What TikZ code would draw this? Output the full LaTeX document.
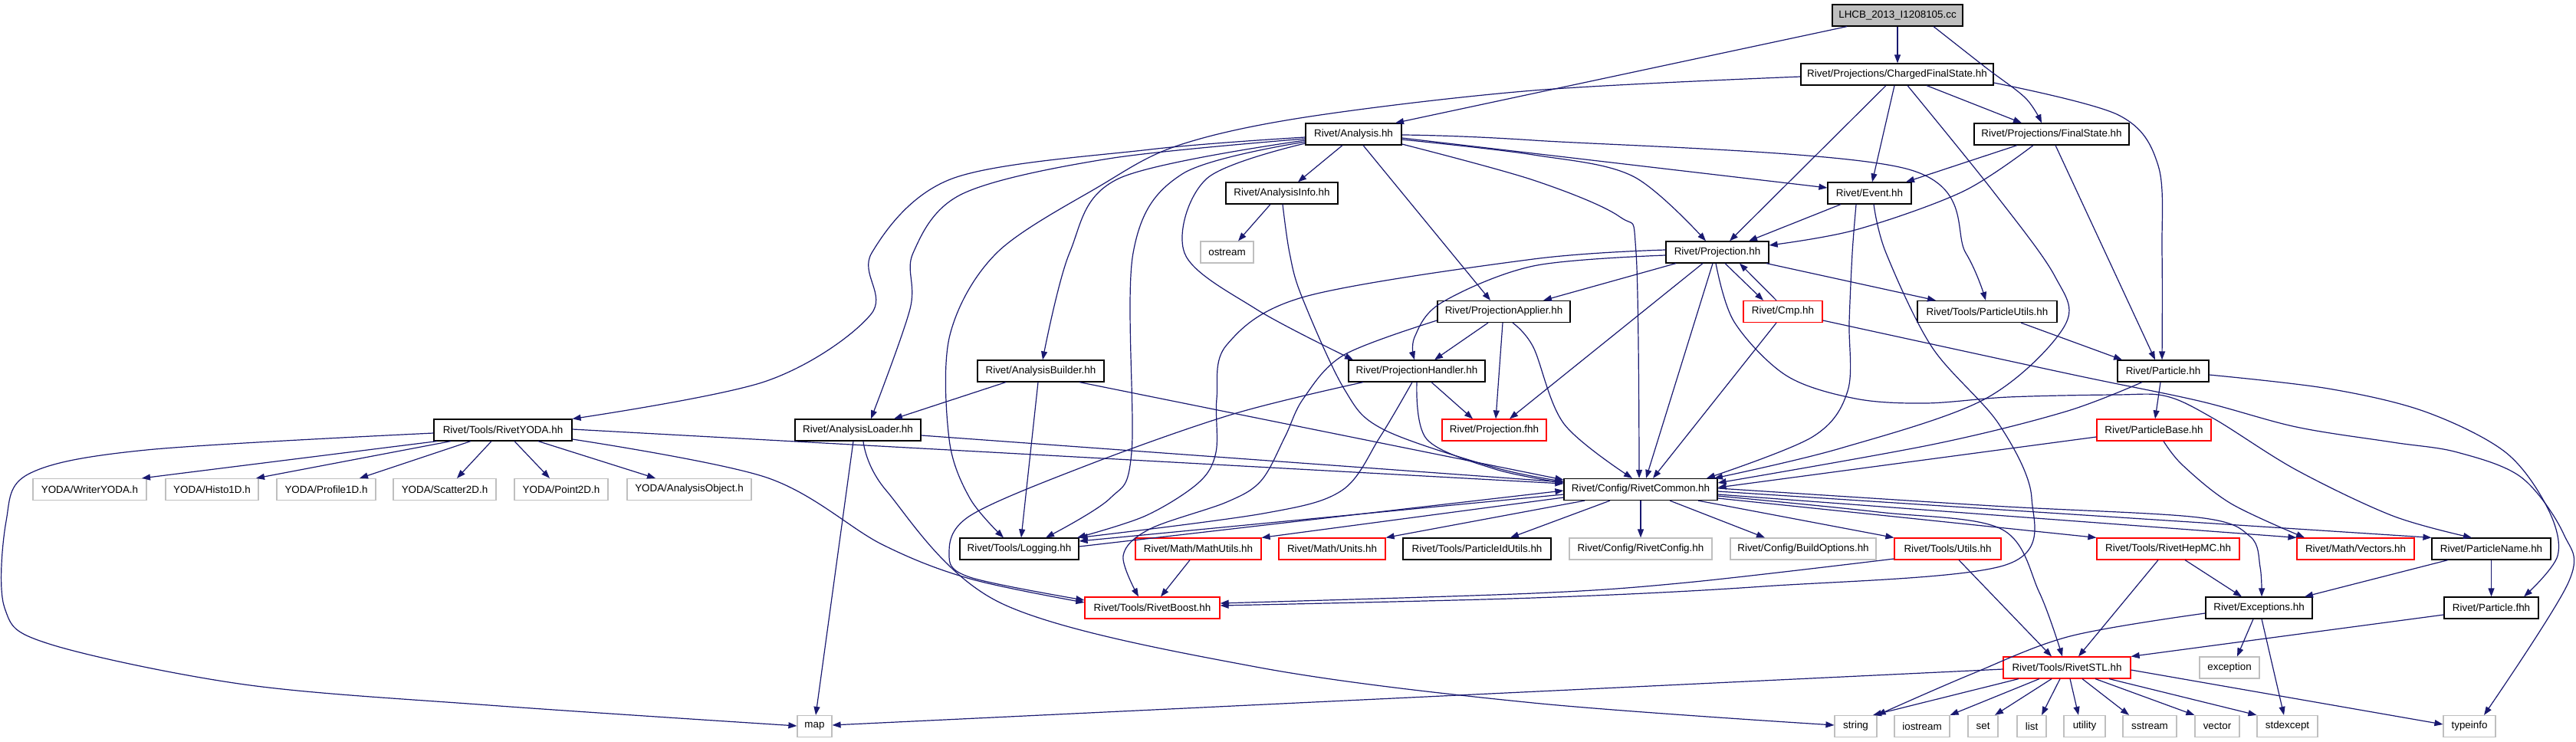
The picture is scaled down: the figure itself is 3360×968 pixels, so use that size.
\documentclass[tikz,border=0pt]{standalone}
\usepackage{fontspec}
\setmainfont{Liberation Sans}
\usetikzlibrary{arrows.meta}
\definecolor{edgec}{HTML}{191970}
\definecolor{greyb}{HTML}{BFBFBF}
\tikzset{
 bx/.style={draw=black, line width=0.6pt, rectangle, inner sep=0pt, minimum height=14pt, font=\fontsize{6.7pt}{8pt}\selectfont, fill=white},
 rb/.style={bx, draw=red},
 gb/.style={bx, draw=greyb},
 edg/.style={draw=edgec, line width=0.6pt, -{Triangle[length=5.5pt,width=4pt]}},
 sm/.style={smooth, tension=0.55},
}
\begin{document}
\begin{tikzpicture}[x=0.5pt,y=-0.5pt]
\useasboundingbox (0,0) rectangle (3360,968);
% nodes
\node[bx,fill=greyb,minimum width=85pt] (root) at (2475,20) {LHCB\_2013\_I1208105.cc};
\node[bx,minimum width=125.5pt] (cfs) at (2474.5,97) {Rivet/Projections/ChargedFinalState.hh};
\node[bx,minimum width=62.5pt] (ana) at (1765.5,175) {Rivet/Analysis.hh};
\node[bx,minimum width=101pt] (fs) at (2676,175) {Rivet/Projections/FinalState.hh};
\node[bx,minimum width=73pt] (ainfo) at (1672,252) {Rivet/AnalysisInfo.hh};
\node[bx,minimum width=54.5pt] (event) at (2438.5,252) {Rivet/Event.hh};
\node[gb,minimum width=34.5pt] (ostream) at (1600.5,329) {ostream};
\node[bx,minimum width=67pt] (proj) at (2240,329) {Rivet/Projection.hh};
\node[bx,minimum width=86.5pt] (papp) at (1961.5,406.5) {Rivet/ProjectionApplier.hh};
\node[rb,minimum width=51.5pt] (cmp) at (2325.5,406.5) {Rivet/Cmp.hh};
\node[bx,minimum width=91pt] (putils) at (2592,406.5) {Rivet/Tools/ParticleUtils.hh};
\node[bx,minimum width=82.5pt] (abuild) at (1357.5,484) {Rivet/AnalysisBuilder.hh};
\node[bx,minimum width=89pt] (phandler) at (1848,484) {Rivet/ProjectionHandler.hh};
\node[bx,minimum width=59.5pt] (particle) at (2821.5,484) {Rivet/Particle.hh};
\node[bx,minimum width=90pt] (yoda) at (656,561) {Rivet/Tools/RivetYODA.hh};
\node[bx,minimum width=82pt] (aload) at (1119,561) {Rivet/AnalysisLoader.hh};
\node[rb,minimum width=68pt] (pfhh) at (1949,561) {Rivet/Projection.fhh};
\node[rb,minimum width=74.5pt] (pbase) at (2809.5,561) {Rivet/ParticleBase.hh};
\node[bx,minimum width=100pt] (common) at (2140,638.5) {Rivet/Config/RivetCommon.hh};
\node[gb,minimum width=74pt] (wyoda) at (117,638.5) {YODA/WriterYODA.h};
\node[gb,minimum width=60.5pt] (histo) at (276.5,638.5) {YODA/Histo1D.h};
\node[gb,minimum width=64.5pt] (prof) at (425.5,638.5) {YODA/Profile1D.h};
\node[gb,minimum width=67pt] (scat) at (580,638.5) {YODA/Scatter2D.h};
\node[gb,minimum width=61pt] (point) at (732,638.5) {YODA/Point2D.h};
\node[gb,minimum width=81pt] (aobj) at (899,638.5) {YODA/AnalysisObject.h};
\node[bx,minimum width=77.5pt] (logging) at (1329.5,716) {Rivet/Tools/Logging.hh};
\node[rb,minimum width=82pt] (mutils) at (1563,716) {Rivet/Math/MathUtils.hh};
\node[rb,minimum width=69.5pt] (units) at (1737.5,716) {Rivet/Math/Units.hh};
\node[bx,minimum width=96.5pt] (pidutils) at (1926.5,716) {Rivet/Tools/ParticleIdUtils.hh};
\node[gb,minimum width=93pt] (rconfig) at (2140,716) {Rivet/Config/RivetConfig.hh};
\node[gb,minimum width=95pt] (bopts) at (2352,716) {Rivet/Config/BuildOptions.hh};
\node[rb,minimum width=69.5pt] (utils) at (2540.5,716) {Rivet/Tools/Utils.hh};
\node[rb,minimum width=93pt] (hepmc) at (2828,716) {Rivet/Tools/RivetHepMC.hh};
\node[rb,minimum width=76.5pt] (vectors) at (3072.5,716) {Rivet/Math/Vectors.hh};
\node[bx,minimum width=77.5pt] (pname) at (3249.5,716) {Rivet/ParticleName.hh};
\node[rb,minimum width=88pt] (boost) at (1503,793) {Rivet/Tools/RivetBoost.hh};
\node[bx,minimum width=69.5pt] (except) at (2946.5,793) {Rivet/Exceptions.hh};
\node[bx,minimum width=61.5pt] (pfwd) at (3249.5,793) {Rivet/Particle.fhh};
\node[rb,minimum width=83pt] (stl) at (2696,871) {Rivet/Tools/RivetSTL.hh};
\node[gb,minimum width=39pt] (exception) at (2908,871) {exception};
\node[gb,minimum width=22.5pt] (map) at (1062.5,947.5) {map};
\node[gb,minimum width=27.5pt] (string) at (2420.5,947.5) {string};
\node[gb,minimum width=36pt] (iostream) at (2507,947.5) {iostream};
\node[gb,minimum width=19.5pt] (set) at (2586.5,947.5) {set};
\node[gb,minimum width=19pt] (list) at (2650,947.5) {list};
\node[gb,minimum width=27pt] (utility) at (2719,947.5) {utility};
\node[gb,minimum width=35pt] (sstream) at (2804,947.5) {sstream};
\node[gb,minimum width=29pt] (vector) at (2892,947.5) {vector};
\node[gb,minimum width=39.5pt] (stdexcept) at (2983.5,947.5) {stdexcept};
\node[gb,minimum width=34pt] (typeinfo) at (3221,947.5) {typeinfo};
% edges from root
\draw[edg] (2409,0 |- root.south) -- (1820,0 |- ana.north);
\draw[edg] (2475,0 |- root.south) -- (2475,0 |- cfs.north);
\draw[edg] plot[sm] coordinates {(2522,0 |- root.south) (2590,88) (2642,128) (2663,0 |- fs.north)};
% ChargedFinalState
\draw[edg] (2513,0 |- cfs.south) -- (2637,0 |- fs.north);
\draw[edg] plot[sm] coordinates {(cfs.west |- 0,100) (2000,118) (1702,153) (1536,190) (1434,243) (1300,330) (1239,437) (1238,573) (1265,650) (1309,0 |- logging.north)};
\draw[edg] (2460,0 |- cfs.south) -- (2256,0 |- proj.north);
\draw[edg] (2471,0 |- cfs.south) -- (2442,0 |- event.north);
\draw[edg] plot[sm] coordinates {(2488,0 |- cfs.south) (2600,250) (2680,360) (2693,425) (2590,520) (2400,585) (2236,0 |- common.north)};
\draw[edg] plot[sm] coordinates {(cfs.east |- 0,108) (2763,150) (2815,216) (2820,330) (2820,0 |- particle.north)};
% Analysis
\draw[edg] (1751,0 |- ana.south) -- (1693,0 |- ainfo.north);
\draw[edg] (1778,0 |- ana.south) -- (1944,0 |- papp.north);
\draw[edg] plot[sm] coordinates {(ana.west |- 0,187) (1574,233) (1545,330) (1638,403) (1765,0 |- phandler.north)};
\draw[edg] plot[sm] coordinates {(ana.west |- 0,185) (1542,227) (1478,330) (1476,590) (1448,650) (1364,0 |- logging.north)};
\draw[edg] plot[sm] coordinates {(ana.west |- 0,183) (1459,233) (1395,330) (1360,0 |- abuild.north)};
\draw[edg] plot[sm] coordinates {(ana.west |- 0,181) (1446,207) (1255,253) (1191,330) (1187,403) (1136,0 |- aload.north)};
\draw[edg] plot[sm] coordinates {(ana.west |- 0,179) (1500,195) (1242,233) (1137,330) (1136,410) (1000,497) (yoda.north east)};
\draw[edg] plot[sm] coordinates {(ana.east |- 0,176) (2000,183) (2486,220) (2564,330) (2590,0 |- putils.north)};
\draw[edg] (ana.east |- 0,180) -- (event.west |- 0,245);
\draw[edg] plot[sm] coordinates {(ana.east |- 0,182) (2000,202) (2130,230) (2225,0 |- proj.north)};
\draw[edg] plot[sm] coordinates {(ana.east |- 0,188) (2000,235) (2113,283) (2134,330) (2138,0 |- common.north)};
% AnalysisInfo
\draw[edg] (1657,0 |- ainfo.south) -- (1615,0 |- ostream.north);
\draw[edg] plot[sm] coordinates {(1673,0 |- ainfo.south) (1682,330) (1698,387) (1753,507) (1804,560) (1950,610) (common.west |- 0,628)};
% Event
\draw[edg] (2401,0 |- event.south) -- (2281,0 |- proj.north);
\draw[edg] plot[sm] coordinates {(2421,0 |- event.south) (2416,330) (2412,420) (2410,510) (2364,570) (2226,0 |- common.north)};
\draw[edg] plot[sm] coordinates {(2444,0 |- event.south) (2460,330) (2520,453) (2607,553) (2650,650) (2616,737) (2300,765) (2000,780) (boost.east |- 0,790)};
% FinalState
\draw[edg] (2631,0 |- fs.south) -- (2486,0 |- event.north);
\draw[edg] plot[sm] coordinates {(2652,0 |- fs.south) (2560,250) (2420,300) (proj.east |- 0,320)};
\draw[edg] (2681,0 |- fs.south) -- (2811,0 |- particle.north);
% Projection
\draw[edg] (2186,0 |- proj.south) -- (2013,0 |- papp.north);
\draw[edg] (2250,0 |- proj.south) -- (2300,0 |- cmp.north);
\draw[edg] (2317,0 |- cmp.north) -- (2269,0 |- proj.south);
\draw[edg] (2304,0 |- proj.south) -- (2525,0 |- putils.north);
\draw[edg] (2221,0 |- proj.south) -- (1969,0 |- pfhh.north);
\draw[edg] (2234,0 |- proj.south) -- (2147,0 |- common.north);
\draw[edg] plot[sm] coordinates {(proj.west |- 0,333) (2000,347) (1880,395) (1845,440) (1845,0 |- phandler.north)};
\draw[edg] plot[sm] coordinates {(proj.west |- 0,326) (2000,338) (1702,387) (1600,450) (1587,520) (1586,590) (1563,630) (1494,673) (1405,0 |- logging.north)};
\draw[edg] plot[sm] coordinates {(2238,0 |- proj.south) (2262,420) (2330,490) (2420,520) (2512,526) (2620,518) (2760,515) (2826,517) (2889,547) (2995,613) (3121,673) (3224,0 |- pname.north)};
% ProjectionApplier
\draw[edg] (1941,0 |- papp.south) -- (1871,0 |- phandler.north);
\draw[edg] (1960,0 |- papp.south) -- (1951,0 |- pfhh.north);
\draw[edg] plot[sm] coordinates {(1973,0 |- papp.south) (2000,453) (2040,553) (2129,0 |- common.north)};
\draw[edg] plot[sm] coordinates {(papp.west |- 0,418) (1753,463) (1700,520) (1676,570) (1645,627) (1600,655) (1500,690) (1465,725) (1485,0 |- boost.north)};
% ProjectionHandler
\draw[edg] (1867,0 |- phandler.south) -- (1921,0 |- pfhh.north);
\draw[edg] plot[sm] coordinates {(1842,0 |- phandler.south) (1800,570) (1750,640) (1647,670) (logging.north east)};
\draw[edg] plot[sm] coordinates {(1848,0 |- phandler.south) (1861,573) (1950,612) (common.west |- 0,630)};
\draw[edg] plot[sm] coordinates {(1778,0 |- phandler.south) (1609,540) (1418,607) (1265,673) (1238,723) (1265,753) (boost.west |- 0,783)};
% AnalysisBuilder
\draw[edg] (1312,0 |- abuild.south) -- (1166,0 |- aload.north);
\draw[edg] (1354,0 |- abuild.south) -- (1332,0 |- logging.north);
\draw[edg] (1408,0 |- abuild.south) -- (common.west |- 0,626);
% AnalysisLoader
\draw[edg] (aload.east |- 0,568) -- (common.west |- 0,629);
\draw[edg] (1113,0 |- aload.south) -- (1064,0 |- map.north);
\draw[edg] plot[sm] coordinates {(1126,0 |- aload.south) (1156,640) (1306,787) (1638,870) (2000,917) (string.west |- 0,946)};
% RivetYODA
\draw[edg] (yoda.east |- 0,560) -- (common.west |- 0,631);
\draw[edg] plot[sm] coordinates {(yoda.east |- 0,573) (1000,623) (1150,710) (1265,755) (boost.west |- 0,786)};
\draw[edg] (570,0 |- yoda.south) -- (185,0 |- wyoda.north);
\draw[edg] (588,0 |- yoda.south) -- (334,0 |- histo.north);
\draw[edg] (614,0 |- yoda.south) -- (469,0 |- prof.north);
\draw[edg] (641,0 |- yoda.south) -- (596,0 |- scat.north);
\draw[edg] (671,0 |- yoda.south) -- (717,0 |- point.north);
\draw[edg] (702,0 |- yoda.south) -- (855,0 |- aobj.north);
\draw[edg] plot[sm] coordinates {(yoda.west |- 0,565) (191,587) (38,618) (8,680) (6,793) (64,840) (319,893) (638,920) (map.west |- 0,947)};
% Particle
\draw[edg] plot[sm] coordinates {(2794,0 |- particle.south) (2694,537) (2520,580) (common.east |- 0,630)};
\draw[edg] (2818,0 |- particle.south) -- (2811,0 |- pbase.north);
\draw[edg] plot[sm] coordinates {(particle.east |- 0,489) (3037,507) (3163,537) (3268,590) (3323,663) (3336,725) (3292,0 |- pfwd.north)};
\draw[edg] (2636,0 |- putils.south) -- (2768,0 |- particle.north);
% Cmp
\draw[edg] (2317,0 |- cmp.south) -- (2156,0 |- common.north);
\draw[edg] plot[sm] coordinates {(cmp.east |- 0,418) (2700,488) (2868,523) (2995,557) (3121,577) (3205,590) (3289,623) (3344,697) (3350,760) (3240,0 |- typeinfo.north)};
% ParticleBase
\draw[edg] (pbase.west |- 0,570) -- (common.east |- 0,636);
\draw[edg] plot[sm] coordinates {(2822,0 |- pbase.south) (2847,607) (2910,657) (3006,0 |- vectors.north)};
% RivetCommon
\draw[edg] (common.west |- 0,645) -- (logging.east |- 0,706);
\draw[edg] (logging.east |- 0,713) -- (common.west |- 0,640);
\draw[edg] (common.west |- 0,649) -- (mutils.north east);
\draw[edg] (2067,0 |- common.south) -- (units.north east);
\draw[edg] (2100,0 |- common.south) -- (1970,0 |- pidutils.north);
\draw[edg] (2140,0 |- common.south) -- (2140,0 |- rconfig.north);
\draw[edg] (2178,0 |- common.south) -- (2302,0 |- bopts.north);
\draw[edg] (2215,0 |- common.south) -- (utils.north west);
\draw[edg] (common.east |- 0,650) -- (hepmc.north west);
\draw[edg] (common.east |- 0,645) -- (vectors.north west);
\draw[edg] (common.east |- 0,641) -- (pname.north west);
\draw[edg] plot[sm] coordinates {(common.east |- 0,637) (2600,660) (2867,675) (2935,700) (2948,740) (2950,0 |- except.north)};
\draw[edg] plot[sm] coordinates {(common.east |- 0,647) (2450,668) (2610,690) (2660,773) (2690,0 |- stl.north)};
% Utils, HepMC, ParticleName, MathUtils
\draw[edg] plot[sm] coordinates {(utils.west |- 0,729) (2200,760) (2000,774) (boost.east |- 0,787)};
\draw[edg] (2555,0 |- utils.south) -- (2676,0 |- stl.north);
\draw[edg] (2850,0 |- hepmc.south) -- (2924,0 |- except.north);
\draw[edg] (2815,0 |- hepmc.south) -- (2711,0 |- stl.north);
\draw[edg] (3193,0 |- pname.south) -- (3006,0 |- except.north);
\draw[edg] (pname.south) -- (pfwd.north);
\draw[edg] (1552,0 |- mutils.south) -- (1514,0 |- boost.north);
% Exceptions, Particle.fhh
\draw[edg] plot[sm] coordinates {(except.west |- 0,800) (2700,830) (2570,880) (string.north east)};
\draw[edg] (2939,0 |- except.south) -- (2918,0 |- exception.north);
\draw[edg] (2950,0 |- except.south) -- (2979,0 |- stdexcept.north);
\draw[edg] (pfwd.west |- 0,802) -- (stl.north east);
% RivetSTL
\draw[edg] (2633,0 |- stl.south) -- (2443,0 |- string.north);
\draw[edg] (2660,0 |- stl.south) -- (iostream.north east);
\draw[edg] (2676,0 |- stl.south) -- (2602,0 |- set.north);
\draw[edg] (2687,0 |- stl.south) -- (2663,0 |- list.north);
\draw[edg] (2700,0 |- stl.south) -- (2711,0 |- utility.north);
\draw[edg] (2716,0 |- stl.south) -- (2777,0 |- sstream.north);
\draw[edg] (2733,0 |- stl.south) -- (vector.north west);
\draw[edg] (2751,0 |- stl.south) -- (stdexcept.north west);
\draw[edg] (stl.east |- 0,874) -- (typeinfo.west |- 0,945);
\draw[edg] (stl.west |- 0,873) -- (map.east |- 0,946);
\end{tikzpicture}
\end{document}
